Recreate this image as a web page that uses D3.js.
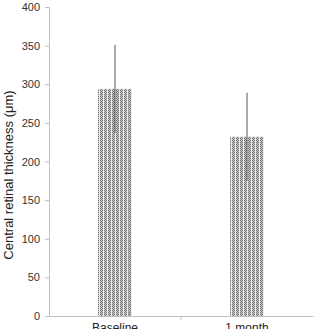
<!DOCTYPE html>
<html><head><meta charset="utf-8">
<script src="https://cdn.jsdelivr.net/npm/d3@7"></script>
<style>body{margin:0;background:#fff;overflow:hidden}svg{display:block}</style>
</head><body>
<svg id="c" width="320" height="329"></svg>
<script>
const categories = ["Baseline", "1 month"];
const means = [294, 232];
const errors = [57, 57];
const yTicks = [0, 50, 100, 150, 200, 250, 300, 350, 400];

const svg = d3.select("#c");
const m = {l: 49, r: 7, t: 7, b: 13};
const W = 320, H = 329;
const x = d3.scaleBand().domain(categories).range([m.l, W - m.r]);
const y = d3.scaleLinear().domain([0, 400]).range([H - m.b, m.t]);

const defs = svg.append("defs");
const p = defs.append("pattern").attr("id", "pat").attr("patternUnits", "userSpaceOnUse")
  .attr("width", 8).attr("height", 4);
p.append("rect").attr("width", 8).attr("height", 4).attr("fill", "#eee");
const cells = [];
for (let i = 0; i < 8; i++) for (let j = 0; j < 4; j++) {
  if (i === 3 || i === 7) continue;
  const dark = (i + j) % 2 === 0;
  cells.push({i, j, c: dark ? "#777" : "#c8c8c8"});
}
p.selectAll("rect.cell").data(cells).join("rect").attr("class", "cell")
  .attr("x", d => d.i).attr("y", d => d.j).attr("width", 1).attr("height", 1).attr("fill", d => d.c);

const bw = 34;
const ya = svg.append("g").attr("transform", `translate(${m.l},0)`)
  .call(d3.axisLeft(y).tickValues(yTicks).tickSize(4).tickPadding(5));
ya.select(".domain").attr("stroke", "#bfbfbf");
ya.selectAll(".tick line").attr("stroke", "#bfbfbf");
ya.selectAll("text").attr("font-family", "Liberation Sans, Arial, sans-serif").attr("font-size", 11).attr("fill", "#333");

svg.append("g").selectAll("rect").data(categories).join("rect")
  .attr("x", d => x(d) + x.bandwidth() / 2 - bw / 2)
  .attr("y", (d, i) => y(means[i]))
  .attr("width", bw)
  .attr("height", (d, i) => y(0) - y(means[i]))
  .attr("fill", "url(#pat)");

const xa = svg.append("g").attr("transform", `translate(0,${y(0)})`)
  .call(d3.axisBottom(x).tickSize(0).tickPadding(7));
xa.select(".domain").attr("stroke", "#bfbfbf");
xa.selectAll("text").attr("font-family", "Liberation Sans, Arial, sans-serif").attr("font-size", 12).attr("fill", "#222");
svg.append("g").selectAll("line").data([categories[1]]).join("line")
  .attr("x1", d => x(d)).attr("x2", d => x(d))
  .attr("y1", y(0)).attr("y2", y(0) + 4).attr("stroke", "#bfbfbf");

svg.append("g").selectAll("line").data(categories).join("line")
  .attr("x1", d => x(d) + x.bandwidth() / 2).attr("x2", d => x(d) + x.bandwidth() / 2)
  .attr("y1", (d, i) => y(means[i] + errors[i])).attr("y2", (d, i) => y(means[i] - errors[i]))
  .attr("stroke", "#555").attr("stroke-width", 1);

svg.append("text").attr("transform", `translate(13,175) rotate(-90)`)
  .attr("text-anchor", "middle").attr("font-family", "Liberation Sans, Arial, sans-serif")
  .attr("font-size", 13).attr("fill", "#222").text("Central retinal thickness (μm)");
</script>
</body></html>
